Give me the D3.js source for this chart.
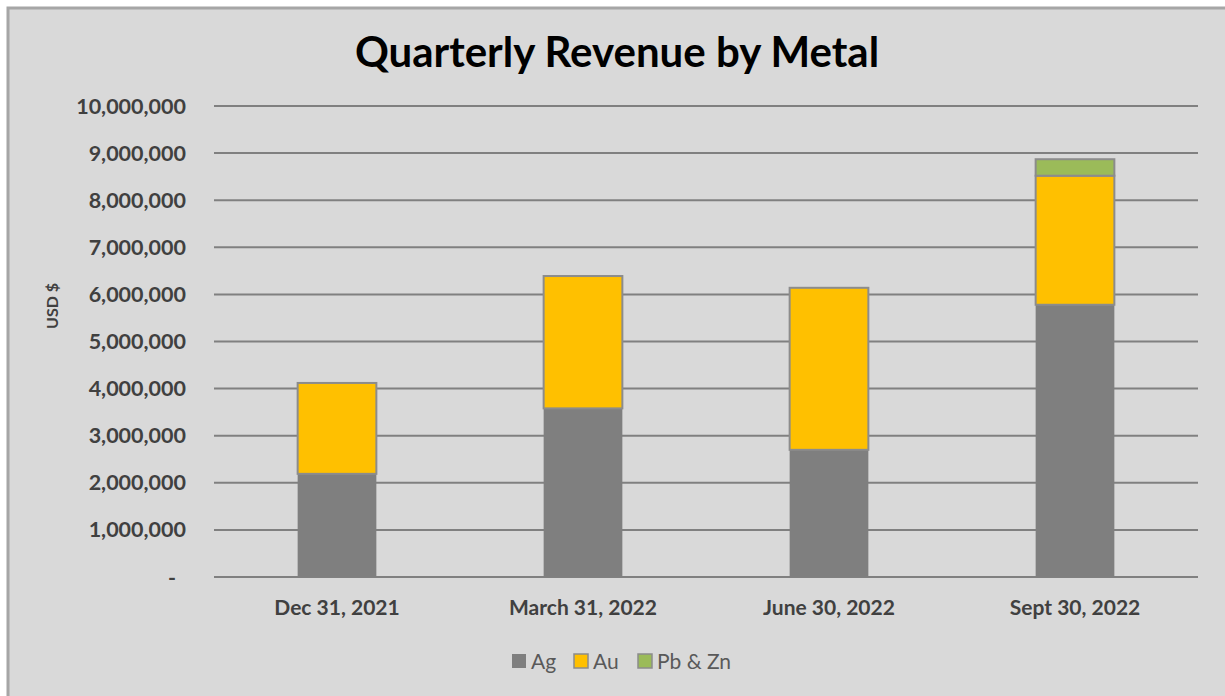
<!DOCTYPE html>
<html>
<head>
<meta charset="utf-8">
<script src="https://cdn.jsdelivr.net/npm/d3@7"></script>
<style>
    body { margin: 0; background: #ffffff; }
    svg { display: block; font-family: Lato, "Open Sans", sans-serif; }
</style>
</head>
<body>
<svg id="chart" width="1225" height="696"></svg>
<script>
// quarters and revenue per metal (USD)
var quarters = ['Dec 31, 2021', 'March 31, 2022', 'June 30, 2022', 'Sept 30, 2022'];
var metals = ['Ag', 'Au', 'Pb & Zn'];
var agValues = [2190000, 3580000, 2700000, 5780000];
var auValues = [1930000, 2810000, 3440000, 2740000];
var pbZnValues = [0, 0, 0, 350000];
var yTicks = [0, 1000000, 2000000, 3000000, 4000000, 5000000, 6000000, 7000000, 8000000, 9000000, 10000000];

(function () {

    var colors = { 'Ag': '#7f7f7f', 'Au': '#ffc000', 'Pb & Zn': '#9bbb59' };

    var rows = quarters.map(function (q, i) {
        return { quarter: q, 'Ag': agValues[i], 'Au': auValues[i], 'Pb & Zn': pbZnValues[i] };
    });

    var svg = d3.select('#chart');

    // chart area background + frame
    svg.append('rect')
        .attr('x', 8).attr('y', 8)
        .attr('width', 1230).attr('height', 700)
        .attr('fill', '#d9d9d9')
        .attr('stroke', '#a6a6a6')
        .attr('stroke-width', 3);

    var plotLeft = 214, plotRight = 1198, plotTop = 106, plotBottom = 577;

    var x = d3.scaleBand().domain(quarters).range([plotLeft, plotRight]).paddingInner(0.68).paddingOuter(0.34);
    var y = d3.scaleLinear().domain([0, 10000000]).range([plotBottom, plotTop]);

    /*============ GRID + Y AXIS ============*/

    svg.append('g')
        .selectAll('line')
        .data(yTicks)
        .join('line')
            .attr('x1', plotLeft).attr('x2', plotRight)
            .attr('y1', function (d) { return y(d); })
            .attr('y2', function (d) { return y(d); })
            .attr('stroke', '#808080')
            .attr('stroke-width', 2);

    var fmt = d3.format(',');
    svg.append('g')
        .selectAll('text')
        .data(yTicks)
        .join('text')
            .attr('x', function (d) { return d === 0 ? 176 : 186; })
            .attr('y', function (d) { return y(d) + 7.5; })
            .attr('text-anchor', 'end')
            .attr('font-size', '21.5px')
            .attr('font-weight', 'bold')
            .attr('fill', '#404040')
            .text(function (d) { return d === 0 ? '-' : fmt(d); });

    svg.append('text')
        .attr('transform', 'translate(58,306) rotate(-90)')
        .attr('text-anchor', 'middle')
        .attr('font-size', '16px')
        .attr('font-weight', 'bold')
        .attr('fill', '#404040')
        .text('USD $');

    /*============ STACKED BARS ============*/

    var series = d3.stack().keys(metals)(rows);

    svg.append('g')
        .selectAll('g')
        .data(series)
        .join('g')
            .attr('fill', function (s) { return colors[s.key]; })
            .attr('stroke', function (s) { return s.key === 'Ag' ? 'none' : '#8c8c8c'; })
            .attr('stroke-width', 2)
        .selectAll('rect')
        .data(function (s) { return s.filter(function (d) { return d[1] > d[0]; }); })
        .join('rect')
            .attr('x', function (d) { return x(d.data.quarter); })
            .attr('width', x.bandwidth())
            .attr('y', function (d) { return y(d[1]); })
            .attr('height', function (d) { return y(d[0]) - y(d[1]); });

    /*============ X AXIS LABELS ============*/

    svg.append('g')
        .selectAll('text')
        .data(quarters)
        .join('text')
            .attr('x', function (d) { return x(d) + x.bandwidth() / 2; })
            .attr('y', 615)
            .attr('text-anchor', 'middle')
            .attr('font-size', '21px')
            .attr('font-weight', 'bold')
            .attr('fill', '#404040')
            .text(function (d) { return d; });

    /*============ TITLE ============*/

    svg.append('text')
        .attr('x', 617).attr('y', 67)
        .attr('text-anchor', 'middle')
        .attr('font-size', '42px')
        .attr('font-weight', 'bold')
        .attr('fill', '#000000')
        .text('Quarterly Revenue by Metal');

    /*============ LEGEND ============*/

    var legendX = [512, 574, 638];
    var legend = svg.append('g')
        .selectAll('g')
        .data(metals)
        .join('g')
            .attr('transform', function (d, i) { return 'translate(' + legendX[i] + ',654)'; });

    legend.append('rect')
        .attr('width', 14).attr('height', 14)
        .attr('fill', function (d) { return colors[d]; })
        .attr('stroke', function (d) { return d === 'Ag' ? 'none' : '#8c8c8c'; })
        .attr('stroke-width', 1.5);

    legend.append('text')
        .attr('x', 19).attr('y', 15)
        .attr('font-size', '21px')
        .attr('fill', '#595959')
        .text(function (d) { return d; });

})();
</script>
</body>
</html>
